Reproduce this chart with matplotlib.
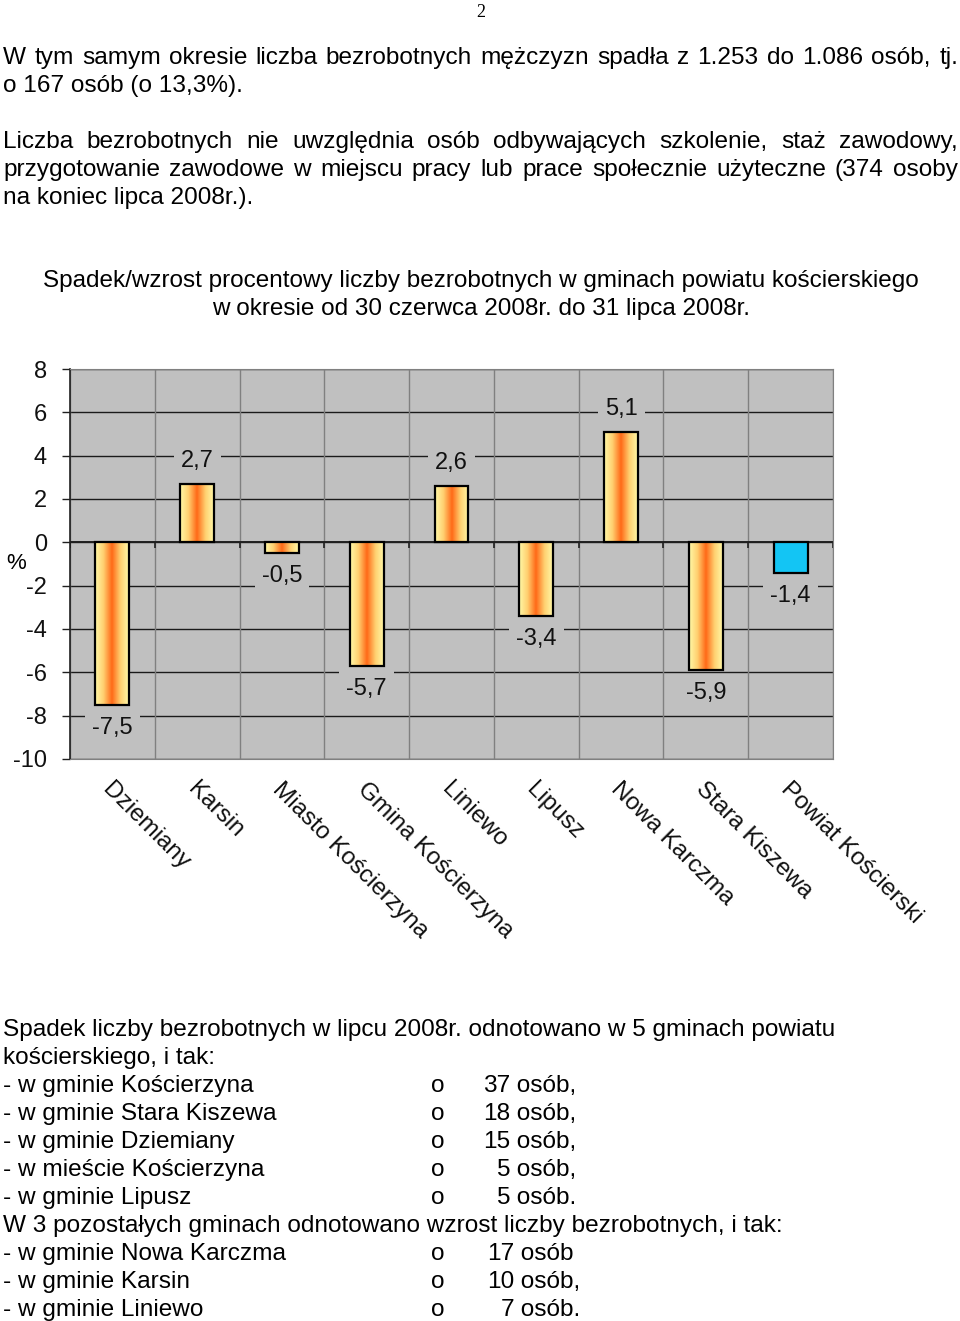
import numpy as np
import matplotlib
matplotlib.use("Agg")
import matplotlib.pyplot as plt
from matplotlib.colors import LinearSegmentedColormap
from matplotlib.patches import Rectangle

# ---------------- data ----------------
categories = ["Dziemiany", "Karsin", "Miasto Kościerzyna", "Gmina Kościerzyna",
              "Liniewo", "Lipusz", "Nowa Karczma", "Stara Kiszewa", "Powiat Kościerski"]
values = [-7.5, 2.7, -0.5, -5.7, 2.6, -3.4, 5.1, -5.9, -1.4]
yticks = [8, 6, 4, 2, 0, -2, -4, -6, -8, -10]

page_number = "2"
para1 = ["W tym samym okresie liczba bezrobotnych mężczyzn spadła z 1.253 do 1.086 osób, tj.",
         "o 167 osób (o 13,3%)."]
para2 = ["Liczba bezrobotnych nie uwzględnia osób odbywających szkolenie, staż zawodowy,",
         "przygotowanie zawodowe w miejscu pracy lub prace społecznie użyteczne (374 osoby",
         "na koniec lipca 2008r.)."]
title_lines = ["Spadek/wzrost procentowy liczby bezrobotnych w gminach powiatu kościerskiego",
               "w okresie od 30 czerwca 2008r. do 31 lipca 2008r."]
intro_lines = ["Spadek liczby bezrobotnych w lipcu 2008r. odnotowano w 5 gminach powiatu",
               "kościerskiego, i tak:"]
dec_names = ["w gminie Kościerzyna", "w gminie Stara Kiszewa", "w gminie Dziemiany",
             "w mieście Kościerzyna", "w gminie Lipusz"]
dec_counts = [37, 18, 15, 5, 5]
dec_punct = [",", ",", ",", ",", "."]
mid_line = "W 3 pozostałych gminach odnotowano wzrost liczby bezrobotnych, i tak:"
inc_names = ["w gminie Nowa Karczma", "w gminie Karsin", "w gminie Liniewo"]
inc_counts = [17, 10, 7]
inc_punct = ["", ",", "."]

# ---------------- figure ----------------
W, H = 960, 1321
plt.rcParams["font.family"] = ["Liberation Sans", "DejaVu Sans"]
fig = plt.figure(figsize=(W / 100, H / 100), dpi=100)
renderer = fig.canvas.get_renderer()


def ptext(x, y, s, size, ha="left", va="baseline", **kw):
    return fig.text(x / W, 1 - y / H, s, fontsize=size, ha=ha, va=va, **kw)


def width_of(s, size, **kw):
    t = fig.text(0, 0, s, fontsize=size, **kw)
    w = t.get_window_extent(renderer).width
    t.remove()
    return w


# body font size fitted to the natural width of an unjustified line
body_size = 18 * 832 / width_of(intro_lines[0], 18)
title_size = 18 * 876 / width_of(title_lines[0], 18)


def justify(line, y, x0=3, x1=958):
    words = line.split(" ")
    ws = [width_of(w, body_size) for w in words]
    gap = (x1 - x0 - sum(ws)) / (len(words) - 1)
    x = x0
    for w, wd in zip(words, ws):
        ptext(x, y, w, body_size)
        x += wd + gap


# page number
ptext(481, 17, page_number, 13, ha="center", family=["Liberation Serif", "DejaVu Serif"])

# paragraph 1
justify(para1[0], 64)
ptext(3, 92, para1[1], body_size)
# paragraph 2
justify(para2[0], 148)
justify(para2[1], 176)
ptext(3, 204, para2[2], body_size)

# title
ptext(481, 287, title_lines[0], title_size, ha="center")
ptext(481, 315, title_lines[1], title_size, ha="center")

# bottom text
yb = 1036
step = 28
for ln in intro_lines:
    ptext(3, yb, ln, body_size)
    yb += step
for n, c, p in zip(dec_names, dec_counts, dec_punct):
    ptext(3, yb, "- " + n, body_size)
    ptext(438, yb, "o", body_size, ha="center")
    ptext(510, yb, str(c), body_size, ha="right")
    ptext(510, yb, " osób" + p, body_size)
    yb += step
ptext(3, yb, mid_line, body_size)
yb += step
for n, c, p in zip(inc_names, inc_counts, inc_punct):
    ptext(3, yb, "- " + n, body_size)
    ptext(438, yb, "o", body_size, ha="center")
    ptext(514, yb, str(c), body_size, ha="right")
    ptext(514, yb, " osób" + p, body_size)
    yb += step

# ---------------- chart ----------------
ax = fig.add_axes([70 / W, 1 - 759 / H, 763 / W, 390 / H])
ax.set_facecolor("#C0C0C0")
n = len(categories)
xs = np.arange(n)
ax.set_xlim(-0.5, n - 0.5)
ax.set_ylim(min(yticks), max(yticks))
ax.set_yticks(yticks)
ax.set_yticklabels([str(t) for t in yticks], fontsize=17, color="#111111")
ax.tick_params(axis="y", length=6, width=1, color="#202020", pad=10.5)
ax.set_xticks([])

bounds = np.arange(n + 1) - 0.5
for yv in yticks:
    ax.axhline(yv, color="#1a1a1a", lw=1.0, zorder=1)
for b in bounds:
    ax.axvline(b, color="#808080", lw=1.0, zorder=1)
ax.axhline(0, color="#202020", lw=1.4, zorder=2)
ax.vlines(bounds, -0.28, 0, color="#202020", lw=1.2, zorder=2)

for s in ["top", "right", "bottom"]:
    ax.spines[s].set_color("#808080")
ax.spines["left"].set_color("#202020")
ax.spines["left"].set_linewidth(1.2)

cmap = LinearSegmentedColormap.from_list("bar", ["#FFF9A8", "#FFD070", "#FF6A18"])
grad = 1 - np.abs(np.linspace(-1, 1, 256))
grad = grad[np.newaxis, :]
bw = 0.4
for i, (x, v) in enumerate(zip(xs, values)):
    lo, hi = min(0, v), max(0, v)
    rect = Rectangle((x - bw / 2, lo), bw, hi - lo, fill=False, ec="black", lw=1.6, zorder=4)
    if i == n - 1:
        rect.set_facecolor("#13C5F4")
        rect.set_fill(True)
        ax.add_patch(rect)
    else:
        ax.add_patch(rect)
        im = ax.imshow(grad, cmap=cmap, aspect="auto", extent=(x - bw / 2, x + bw / 2, lo, hi),
                       zorder=3, interpolation="bilinear")
        im.set_clip_path(rect)
    lab = ("%.1f" % v).replace(".", ",")
    off = 16.5 if v >= 0 else -16.5
    ax.annotate(lab, (x, v), xytext=(0, off), textcoords="offset points", ha="center",
                va="center", fontsize=17, color="#111111", zorder=5,
                bbox=dict(boxstyle="square,pad=0.3", fc="#C0C0C0", ec="none"))
ax.set_xlim(-0.5, n - 0.5)
ax.set_ylim(min(yticks), max(yticks))

for x, c in zip(xs, categories):
    ax.annotate(c, (x, 0), xycoords=ax.get_xaxis_transform(), xytext=(1, -14),
                textcoords="offset points", rotation=-45, rotation_mode="anchor",
                ha="left", va="top", fontsize=17.5, color="#111111")

ptext(16, 569, "%", 16, ha="center")

fig.savefig("out.png", dpi=100)
